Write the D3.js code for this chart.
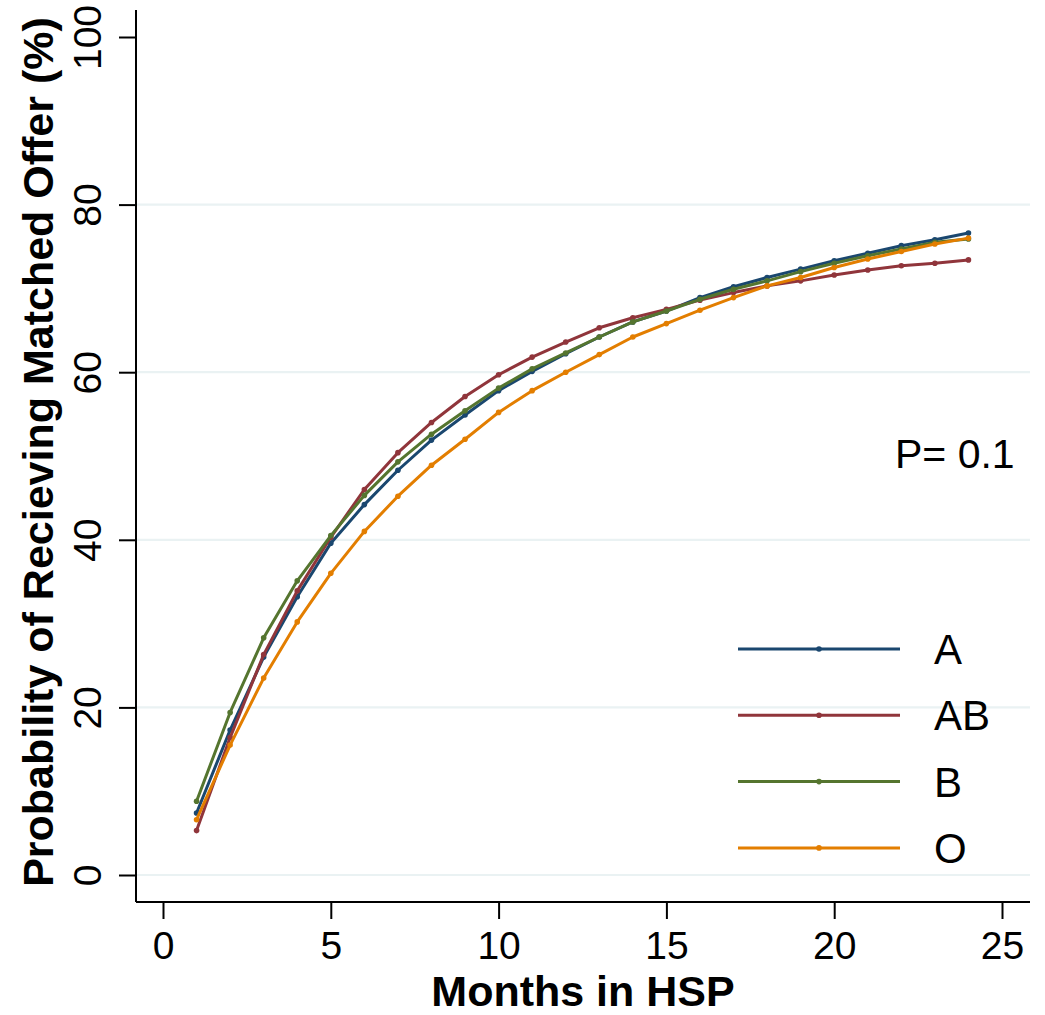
<!DOCTYPE html>
<html>
<head>
<meta charset="utf-8">
<script src="https://cdn.jsdelivr.net/npm/d3@7"></script>
<style>
  html, body { margin: 0; padding: 0; background: #fff; }
  svg { display: block; font-family: "Liberation Sans", Arial, Helvetica, sans-serif; }
</style>
</head>
<body>
<svg id="chart" width="1045" height="1015"></svg>
<script>
const months = [1,2,3,4,5,6,7,8,9,10,11,12,13,14,15,16,17,18,19,20,21,22,23,24];
const seriesNames = ["A", "AB", "B", "O"];
const valuesA  = [7.4,17.3,26.0,33.2,39.6,44.2,48.3,51.9,54.9,57.8,60.1,62.2,64.2,66.0,67.3,68.9,70.2,71.3,72.3,73.3,74.2,75.1,75.8,76.6];
const valuesAB = [5.3,16.4,26.3,33.9,40.3,46.0,50.4,54.0,57.1,59.7,61.8,63.6,65.3,66.5,67.5,68.6,69.5,70.3,70.9,71.6,72.2,72.7,73.0,73.4];
const valuesB  = [8.8,19.4,28.3,35.1,40.5,45.3,49.3,52.6,55.4,58.1,60.4,62.3,64.2,66.0,67.3,68.7,69.9,70.9,72.0,73.0,73.9,74.7,75.5,75.9];
const valuesO  = [6.6,15.5,23.5,30.2,36.0,41.0,45.2,48.9,52.0,55.2,57.8,60.0,62.1,64.2,65.8,67.4,68.9,70.3,71.3,72.5,73.5,74.4,75.3,76.0];
const seriesColors = ["#1a476f", "#90353b", "#55752f", "#e37e00"];
const xTicks = [0,5,10,15,20,25];
const yTicks = [0,20,40,60,80,100];
const gridTicks = [0,20,40,60,80];
const xTitle = "Months in HSP";
const yTitle = "Probability of Recieving Matched Offer (%)";
const annotation = "P= 0.1";

const series = [valuesA, valuesAB, valuesB, valuesO];

const svg = d3.select("#chart");
const x = d3.scaleLinear().domain([0, 25]).range([163, 1002]);
const y = d3.scaleLinear().domain([0, 100]).range([875, 37]);
const axisLeftX = 136, axisBottomY = 902, plotRight = 1030, plotTop = 10;

// gridlines
svg.append("g").selectAll("line").data(gridTicks).join("line")
  .attr("x1", axisLeftX).attr("x2", plotRight)
  .attr("y1", d => y(d)).attr("y2", d => y(d))
  .attr("stroke", "#eaf2f3").attr("stroke-width", 2.2);

// x axis
const xAxis = svg.append("g").attr("transform", `translate(0,${axisBottomY})`)
  .call(d3.axisBottom(x).tickValues(xTicks).tickSize(17).tickPadding(12).tickFormat(d3.format("d")));
xAxis.select(".domain").attr("d", `M${axisLeftX},0H${plotRight}`).attr("stroke", "#000").attr("stroke-width", 2);
xAxis.selectAll(".tick line").attr("stroke", "#000").attr("stroke-width", 2);
xAxis.selectAll(".tick text").attr("font-size", 39).attr("fill", "#000")
  .attr("font-family", "'Liberation Sans', Arial, sans-serif");

// y axis
const yAxis = svg.append("g").attr("transform", `translate(${axisLeftX},0)`)
  .call(d3.axisLeft(y).tickValues(yTicks).tickSize(17).tickFormat(d3.format("d")));
yAxis.select(".domain").attr("d", `M0,${plotTop}V${axisBottomY}`).attr("stroke", "#000").attr("stroke-width", 2);
yAxis.selectAll(".tick line").attr("stroke", "#000").attr("stroke-width", 2);
yAxis.selectAll(".tick text")
  .attr("x", null).attr("dy", null)
  .attr("transform", "translate(-35,0) rotate(-90)")
  .attr("text-anchor", "middle")
  .attr("font-size", 39).attr("fill", "#000")
  .attr("font-family", "'Liberation Sans', Arial, sans-serif");

// titles
svg.append("text").attr("x", 583).attr("y", 1006)
  .attr("text-anchor", "middle").attr("font-weight", "bold").attr("font-size", 43)
  .text(xTitle);
svg.append("text").attr("transform", "translate(53,452) rotate(-90)")
  .attr("text-anchor", "middle").attr("font-weight", "bold").attr("font-size", 43)
  .text(yTitle);

// lines
const line = d3.line().x((d, i) => x(months[i])).y(d => y(d));
series.forEach((vals, k) => {
  const g = svg.append("g");
  g.append("path").datum(vals).attr("d", line)
    .attr("fill", "none").attr("stroke", seriesColors[k]).attr("stroke-width", 3)
    .attr("stroke-linejoin", "round");
  g.selectAll("circle").data(vals).join("circle")
    .attr("cx", (d, i) => x(months[i])).attr("cy", d => y(d)).attr("r", 2.8)
    .attr("fill", seriesColors[k]);
});

// annotation
svg.append("text").attr("x", 895).attr("y", 468).attr("font-size", 41).text(annotation);

// legend
const legend = svg.append("g");
seriesNames.forEach((name, k) => {
  const ly = 649 + k * 66.3;
  legend.append("line").attr("x1", 738).attr("x2", 900).attr("y1", ly).attr("y2", ly)
    .attr("stroke", seriesColors[k]).attr("stroke-width", 3);
  legend.append("circle").attr("cx", 819).attr("cy", ly).attr("r", 2.8).attr("fill", seriesColors[k]);
  legend.append("text").attr("x", 934).attr("y", ly + 15).attr("font-size", 42).text(name);
});
</script>
</body>
</html>
